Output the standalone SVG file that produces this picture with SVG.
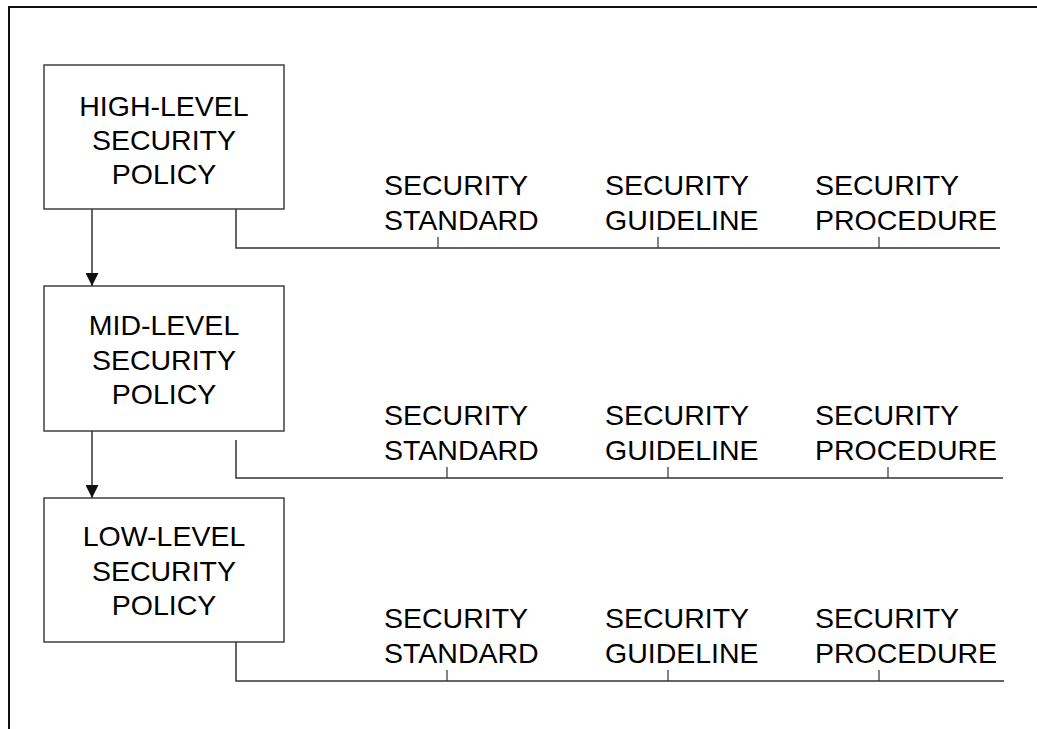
<svg xmlns="http://www.w3.org/2000/svg" width="1037" height="729" viewBox="0 0 1037 729">
  <style>
    .frame { fill: none; stroke: #111; stroke-width: 2; }
    .box { fill: #fff; stroke: #333; stroke-width: 1.4; }
    .wire { fill: none; stroke: #333; stroke-width: 1.5; }
    .tick { fill: none; stroke: #333; stroke-width: 1.2; }
    .lbl { font-family: "Liberation Sans", Arial, sans-serif; font-size: 28.5px; fill: #000; }
    .mid { text-anchor: middle; }
  </style>
  <defs>
    <marker id="arrow" viewBox="0 0 13 13" markerWidth="13" markerHeight="13" refX="13" refY="6.5" orient="auto" markerUnits="userSpaceOnUse">
      <path d="M0,0 L13,6.5 L0,13 z" fill="#111"/>
    </marker>
  </defs>

  <rect width="1037" height="729" fill="#fff"/>
  <!-- page frame: top and left edges -->
  <path class="frame" d="M9,729 V7 H1037"/>

  <!-- policy boxes -->
  <g id="high-level-policy">
    <rect class="box" x="44" y="65" width="240" height="144"/>
    <text class="lbl mid" x="164" y="116">HIGH-LEVEL</text>
    <text class="lbl mid" x="164" y="150">SECURITY</text>
    <text class="lbl mid" x="164" y="184">POLICY</text>
  </g>
  <g id="mid-level-policy">
    <rect class="box" x="44" y="286" width="240" height="145"/>
    <text class="lbl mid" x="164" y="335">MID-LEVEL</text>
    <text class="lbl mid" x="164" y="370">SECURITY</text>
    <text class="lbl mid" x="164" y="404">POLICY</text>
  </g>
  <g id="low-level-policy">
    <rect class="box" x="44" y="498" width="240" height="144"/>
    <text class="lbl mid" x="164" y="546">LOW-LEVEL</text>
    <text class="lbl mid" x="164" y="581">SECURITY</text>
    <text class="lbl mid" x="164" y="615">POLICY</text>
  </g>

  <!-- document labels per level -->
  <g id="high-level-documents">
    <text class="lbl" x="384" y="195">SECURITY</text>
    <text class="lbl" x="384" y="230">STANDARD</text>
    <text class="lbl" x="605" y="195">SECURITY</text>
    <text class="lbl" x="605" y="230">GUIDELINE</text>
    <text class="lbl" x="815" y="195">SECURITY</text>
    <text class="lbl" x="815" y="230">PROCEDURE</text>
  </g>
  <g id="mid-level-documents">
    <text class="lbl" x="384" y="425">SECURITY</text>
    <text class="lbl" x="384" y="460">STANDARD</text>
    <text class="lbl" x="605" y="425">SECURITY</text>
    <text class="lbl" x="605" y="460">GUIDELINE</text>
    <text class="lbl" x="815" y="425">SECURITY</text>
    <text class="lbl" x="815" y="460">PROCEDURE</text>
  </g>
  <g id="low-level-documents">
    <text class="lbl" x="384" y="628">SECURITY</text>
    <text class="lbl" x="384" y="663">STANDARD</text>
    <text class="lbl" x="605" y="628">SECURITY</text>
    <text class="lbl" x="605" y="663">GUIDELINE</text>
    <text class="lbl" x="815" y="628">SECURITY</text>
    <text class="lbl" x="815" y="663">PROCEDURE</text>
  </g>

  <!-- connectors -->
  <g id="connectors">
    <line class="wire" x1="92" y1="209" x2="92" y2="286" marker-end="url(#arrow)"/>
    <line class="wire" x1="92" y1="431" x2="92" y2="498" marker-end="url(#arrow)"/>

    <path class="wire" d="M236,209 V248 H1000"/>
    <path class="tick" d="M438,237 V248 M658,237 V248 M879,237 V248"/>

    <path class="wire" d="M236,440 V478 H1003"/>
    <path class="tick" d="M447,467 V478 M668,467 V478 M888,467 V478"/>

    <path class="wire" d="M236,642 V681 H1004"/>
    <path class="tick" d="M447,670 V681 M668,670 V681 M879,670 V681"/>
  </g>
</svg>
